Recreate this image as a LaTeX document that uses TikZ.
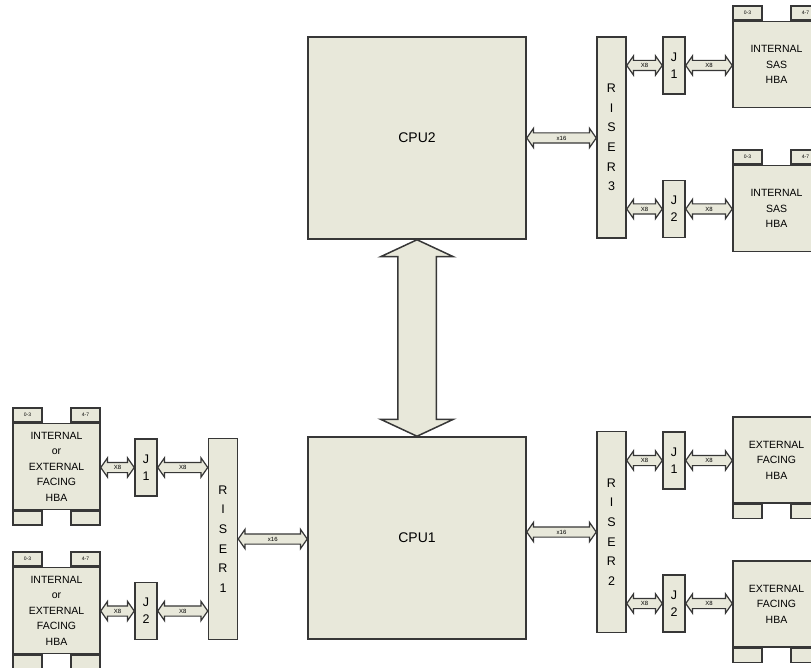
\documentclass[tikz,border=0pt]{standalone}
\usepackage{fontspec}
\setmainfont{Liberation Sans}
\usetikzlibrary{shapes.arrows,calc}

\definecolor{boardfill}{RGB}{232,232,218}
\definecolor{boardedge}{RGB}{55,55,55}

% double-headed bus between two named points
\newcommand\busline[4]{%
  \path let \p1=(#2), \p2=(#3), \n1={veclen(\x2-\x1,\y2-\y1)} in
    node[bus, minimum height=\n1] (#1) at ($(\p1)!0.5!(\p2)$) {#4};}

\begin{document}
\begin{tikzpicture}[x=1pt, y=-1pt,
  cpubox/.style   = {draw=boardedge, fill=boardfill, line width=1.5pt,
                     minimum width=218pt, minimum height=202pt,
                     font=\fontsize{14}{16}\selectfont},
  riserbox/.style = {draw=boardedge, fill=boardfill, line width=1.5pt,
                     minimum width=29pt, minimum height=201pt, align=center,
                     inner sep=0pt, font=\fontsize{12.5}{19.6}\selectfont},
  jbox/.style     = {draw=boardedge, fill=boardfill, line width=1.5pt,
                     minimum width=22pt, minimum height=57pt, align=center,
                     inner sep=0pt, font=\fontsize{12.5}{17}\selectfont},
  hbabox/.style   = {draw=boardedge, fill=boardfill, line width=1.5pt,
                     minimum width=87pt, minimum height=86pt, align=center,
                     inner sep=0pt, font=\fontsize{10.5}{15.5}\selectfont},
  tabbox/.style   = {draw=boardedge, fill=boardfill, line width=1.5pt,
                     minimum width=29pt, minimum height=14pt, inner sep=0pt,
                     font=\fontsize{5}{6}\selectfont},
  bus/.style      = {double arrow, draw=boardedge, fill=boardfill,
                     line width=1.2pt, double arrow head extend=4.5pt,
                     double arrow tip angle=110, inner xsep=0pt,
                     inner ysep=2.25pt, text height=4.5pt, text depth=0pt,
                     font=\fontsize{6}{6}\selectfont},
  qpi/.style      = {double arrow, draw=boardedge, fill=boardfill,
                     line width=1.5pt, double arrow head extend=17pt,
                     double arrow tip angle=130, inner xsep=0pt,
                     inner ysep=18.5pt, text height=0pt, text depth=0pt},
]
\useasboundingbox (0,0) rectangle (811,668);
\clip (0,0) rectangle (811,668);

% processors
\node[cpubox] (cpu2) at (417,138) {CPU2};
\node[cpubox] (cpu1) at (417,538) {CPU1};

% risers
\node[riserbox] (riser3) at (611.5,137.5) {R\\I\\S\\E\\R\\3};
\node[riserbox] (riser2) at (611.5,532)   {R\\I\\S\\E\\R\\2};
\node[riserbox] (riser1) at (223,539)     {R\\I\\S\\E\\R\\1};

% slots
\node[jbox] (r3j1) at (674,65.5)  {J\\1};
\node[jbox] (r3j2) at (674,209)   {J\\2};
\node[jbox] (r2j1) at (674,460.5) {J\\1};
\node[jbox] (r2j2) at (674,603.5) {J\\2};
\node[jbox] (r1j1) at (146,467.5) {J\\1};
\node[jbox] (r1j2) at (146,611)   {J\\2};

% host bus adapters
\node[hbabox] (hbaA) at (776.5,64.5)  {INTERNAL\\SAS\\HBA};
\node[hbabox] (hbaB) at (776.5,208.5) {INTERNAL\\SAS\\HBA};
\node[hbabox] (hbaC) at (776.5,460)   {EXTERNAL\\FACING\\HBA};
\node[hbabox] (hbaD) at (776.5,604)   {EXTERNAL\\FACING\\HBA};
\node[hbabox] (hbaE) at (56.5,466.5)  {INTERNAL\\or\\EXTERNAL\\FACING\\HBA};
\node[hbabox] (hbaF) at (56.5,610.5)  {INTERNAL\\or\\EXTERNAL\\FACING\\HBA};

% connector tabs
\node[tabbox, anchor=south west] (hbaA-t1) at (hbaA.north west) {0-3};
\node[tabbox, anchor=south east] (hbaA-t2) at (hbaA.north east) {4-7};
\node[tabbox, anchor=south west] (hbaB-t1) at (hbaB.north west) {0-3};
\node[tabbox, anchor=south east] (hbaB-t2) at (hbaB.north east) {4-7};
\node[tabbox, anchor=north west] (hbaC-b1) at (hbaC.south west) {};
\node[tabbox, anchor=north east] (hbaC-b2) at (hbaC.south east) {};
\node[tabbox, anchor=north west] (hbaD-b1) at (hbaD.south west) {};
\node[tabbox, anchor=north east] (hbaD-b2) at (hbaD.south east) {};
\node[tabbox, anchor=south west] (hbaE-t1) at (hbaE.north west) {0-3};
\node[tabbox, anchor=south east] (hbaE-t2) at (hbaE.north east) {4-7};
\node[tabbox, anchor=north west] (hbaE-b1) at (hbaE.south west) {};
\node[tabbox, anchor=north east] (hbaE-b2) at (hbaE.south east) {};
\node[tabbox, anchor=south west] (hbaF-t1) at (hbaF.north west) {0-3};
\node[tabbox, anchor=south east] (hbaF-t2) at (hbaF.north east) {4-7};
\node[tabbox, anchor=north west] (hbaF-b1) at (hbaF.south west) {};
\node[tabbox, anchor=north east] (hbaF-b2) at (hbaF.south east) {};

% processor interconnect
\path let \p1=(cpu2.south), \p2=(cpu1.north),
  \n1={veclen(\x2-\x1,\y2-\y1)} in
  node[qpi, minimum height=\n1, rotate=90] (link) at ($(\p1)!0.5!(\p2)$) {};

% x16 buses
\busline{b2}{cpu2.east}{riser3.west|-cpu2.east}{x16}
\busline{b1}{cpu1.east|-riser2}{riser2.west}{x16}
\busline{b0}{riser1.east}{cpu1.west|-riser1}{x16}

% x8 buses, right side
\busline{b31}{riser3.east|-r3j1}{r3j1.west}{X8}
\busline{b32}{r3j1.east}{hbaA.west|-r3j1}{X8}
\busline{b33}{riser3.east|-r3j2}{r3j2.west}{X8}
\busline{b34}{r3j2.east}{hbaB.west|-r3j2}{X8}
\busline{b21}{riser2.east|-r2j1}{r2j1.west}{X8}
\busline{b22}{r2j1.east}{hbaC.west|-r2j1}{X8}
\busline{b23}{riser2.east|-r2j2}{r2j2.west}{X8}
\busline{b24}{r2j2.east}{hbaD.west|-r2j2}{X8}

% x8 buses, left side
\busline{b11}{hbaE.east|-r1j1}{r1j1.west}{X8}
\busline{b12}{r1j1.east}{riser1.west|-r1j1}{X8}
\busline{b13}{hbaF.east|-r1j2}{r1j2.west}{X8}
\busline{b14}{r1j2.east}{riser1.west|-r1j2}{X8}

\end{tikzpicture}
\end{document}
